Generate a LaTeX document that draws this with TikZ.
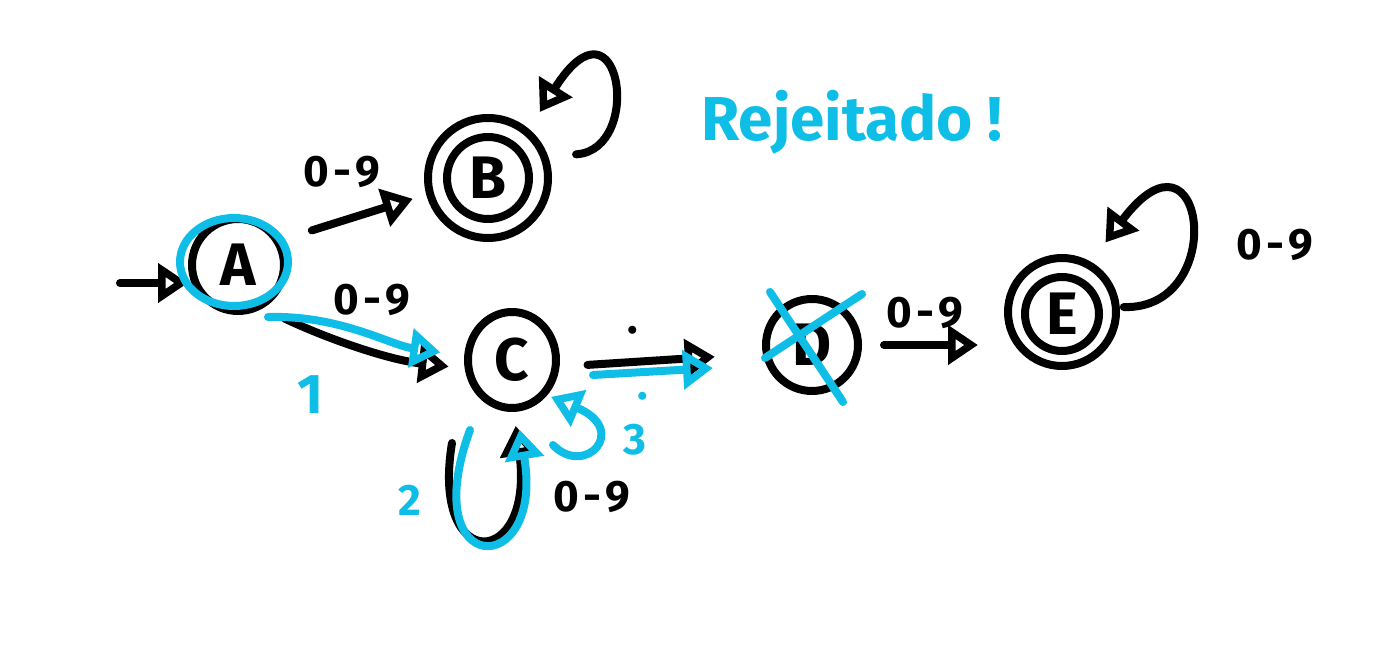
\documentclass[tikz,border=0pt]{standalone}
\usepackage{fontspec}
\setmainfont{Fira Sans}
\usetikzlibrary{arrows.meta,shapes.geometric}
\definecolor{pen}{RGB}{14,190,230}
\begin{document}
\begin{tikzpicture}[x=0.5pt,y=-0.5pt,
  stroke/.style={line width=4pt,line cap=round,line join=round},
  ring/.style={stroke,draw=black,circle,inner sep=0pt},
  state/.style={ring,font=\fontsize{30}{30}\selectfont\bfseries},
  lbl/.style={font=\fontsize{22}{22}\selectfont\bfseries},
  tip/.style={-{Triangle[open,length=15pt,width=19pt]}},
  bluepen/.style={stroke,draw=pen},
  bluelbl/.style={text=pen,font=\fontsize{22}{22}\selectfont\bfseries}]
\useasboundingbox (0,0) rectangle (1392,657);

% states
\node[state,minimum size=46pt] (A) at (238,265) {A};
\node[state,minimum size=41pt] (B) at (488,178) {B};
\node[ring,minimum size=60pt] (Bo) at (488,178) {};
\node[stroke,draw=black,ellipse,inner sep=0pt,minimum width=44pt,minimum height=48pt,font=\fontsize{30}{30}\selectfont\bfseries] (C) at (512,360) {C};
\node[state,minimum size=46pt] (D) at (812,345) {D};
\node[state,minimum size=37pt] (E) at (1062,314) {E};
\node[ring,minimum size=54pt] (Eo) at (1062,312) {};

% start arrow
\coordinate (s0) at (120,283);
\draw[stroke,tip] (s0) -- (A.west |- s0);

% A -> B
\draw[stroke,tip,shorten <=16pt,shorten >=7pt] (A.30) -- (Bo.195);
\node[lbl] (lAB) at (342,172) {0\kern2pt-\kern2pt9};

% B loop
\draw[stroke,tip,shorten <=14pt,shorten >=10pt] (Bo.20) .. controls (645,150) and (620,-15) .. (Bo.50);

% A -> C
\draw[stroke,tip,shorten <=12pt,shorten >=8pt] (A.-60) .. controls (330,340) and (390,360) .. (C.190);
\node[lbl] (lAC) at (372,300) {0\kern2pt-\kern2pt9};

% C loop
\coordinate (c2s) at (452,443);
\draw[stroke,tip,shorten >=7pt] (c2s) .. controls (430,575) and (535,570) .. (C.272);
\node[lbl] (lCC) at (592,497) {0\kern2pt-\kern2pt9};

% C -> D
\draw[stroke,tip,shorten <=14pt,shorten >=24pt] (C.-8) -- (D.190);
\node[lbl] (lCD) at (633,330) {.};

% D -> E
\draw[stroke,tip,shorten <=11pt,shorten >=13pt] (D.east) -- (Eo.west |- D.east);
\node[lbl] (lDE) at (925,313) {0\kern2pt-\kern2pt9};

% E loop
\draw[stroke,tip,shorten <=2pt,shorten >=12pt] (Eo.5) .. controls (1230,310) and (1205,110) .. (Eo.60);
\node[lbl] (lEE) at (1275,245) {0\kern2pt-\kern2pt9};

% ---- blue annotations ----
\node[bluepen,ellipse,minimum width=54pt,minimum height=44pt,inner sep=0pt] (Ab) at (234,262) {};
\coordinate (b1s) at (268,317);
\draw[bluepen,tip,shorten >=12pt] (b1s) .. controls (340,315) and (390,345) .. (C.175);
\node[bluelbl,font=\fontsize{28}{28}\selectfont\bfseries] (n1) at (310,395) {1};

\coordinate (b2s) at (470,430);
\draw[bluepen,tip,shorten >=9pt] (b2s) .. controls (415,580) and (545,580) .. (C.275);
\node[bluelbl] (n2) at (410,500) {2};

\coordinate (b3s) at (553,445);
\draw[bluepen,tip,shorten >=2pt] (b3s) .. controls (585,478) and (630,430) .. (C.-45);
\node[bluelbl] (n3) at (635,440) {3};

\coordinate (bcd) at (593,375);
\draw[bluepen,tip] (bcd) -- (713,368);
\node[bluelbl] (ndot) at (643,396) {.};

\draw[bluepen] (770,292) -- (843,402);
\draw[bluepen] (765,358) -- (862,294);

\node[text=pen,font=\fontsize{31}{31}\selectfont\bfseries] (rej) at (852,122) {Rejeitado !};
\end{tikzpicture}
\end{document}
